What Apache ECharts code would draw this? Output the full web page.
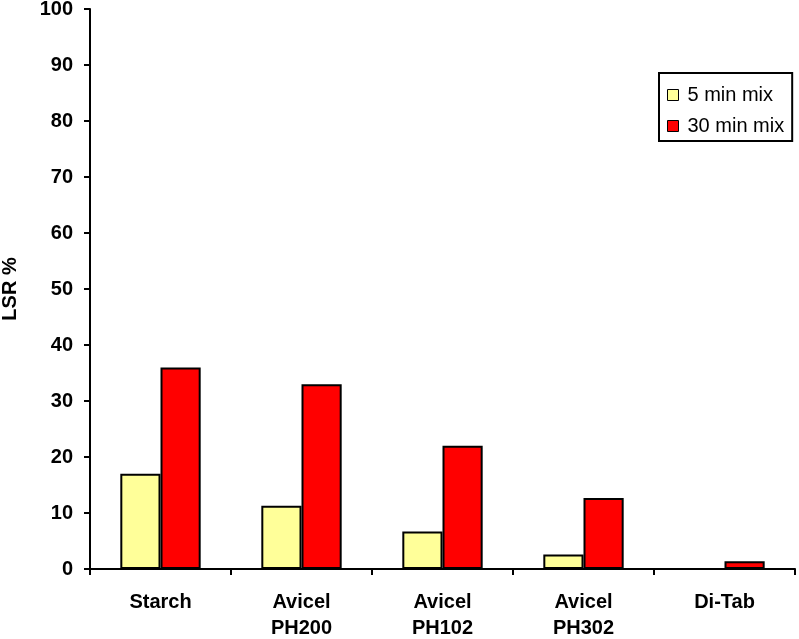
<!DOCTYPE html>
<html>
<head>
<meta charset="utf-8">
<script src="https://cdn.jsdelivr.net/npm/echarts@6/dist/echarts.min.js"></script>
<style>
  html, body { margin: 0; padding: 0; background: #fff; }
  #chart { width: 799px; height: 639px; }
</style>
</head>
<body>
<div id="chart"></div>
<script>
const categories = ['Starch', 'Avicel\nPH200', 'Avicel\nPH102', 'Avicel\nPH302', 'Di-Tab']
const mix5 = [17, 11.3, 6.7, 2.6, 0]
const mix30 = [36, 33, 22, 12.7, 1.4]
const yTicks = [0, 100, 10] // min, max, step

const chart = echarts.init(document.getElementById('chart'))
const font = 'Liberation Sans, Arial, sans-serif'

chart.setOption({
  animation: false,
  grid: { left: 90, right: 4, top: 9, bottom: 70, outerBoundsMode: 'none' },
  legend: {
    orient: 'vertical',
    left: 659,
    top: 73,
    icon: 'rect',
    itemWidth: 11,
    itemHeight: 11,
    itemGap: 11,
    padding: [12, 8, 5, 8],
    borderColor: '#000',
    borderWidth: 2,
    itemStyle: { borderColor: '#000', borderWidth: 1 },
    textStyle: { fontFamily: font, fontSize: 20, color: '#000', padding: [0, 0, 0, 4] },
    data: ['5 min mix', '30 min mix']
  },
  xAxis: {
    type: 'category',
    data: categories,
    axisLine: { lineStyle: { color: '#000', width: 2 } },
    axisTick: { show: true, length: 6, lineStyle: { color: '#000', width: 2 } },
    axisLabel: {
      color: '#000',
      fontFamily: font,
      fontWeight: 'bold',
      fontSize: 20,
      lineHeight: 26,
      margin: 20,
      interval: 0
    }
  },
  yAxis: {
    type: 'value',
    min: yTicks[0],
    max: yTicks[1],
    interval: yTicks[2],
    name: 'LSR %',
    nameLocation: 'middle',
    nameGap: 70,
    nameTextStyle: { color: '#000', fontFamily: font, fontWeight: 'bold', fontSize: 20 },
    axisLine: { show: true, lineStyle: { color: '#000', width: 2 } },
    axisTick: { show: true, length: 6, lineStyle: { color: '#000', width: 2 } },
    axisLabel: { color: '#000', fontFamily: font, fontWeight: 'bold', fontSize: 20, margin: 17 },
    splitLine: { show: false }
  },
  series: [
    {
      name: '5 min mix',
      type: 'bar',
      data: mix5,
      barGap: '0%',
      barCategoryGap: '43%',
      itemStyle: { color: '#FFFF99', borderColor: '#000', borderWidth: 2 }
    },
    {
      name: '30 min mix',
      type: 'bar',
      data: mix30,
      barGap: '0%',
      barCategoryGap: '43%',
      itemStyle: { color: '#FF0000', borderColor: '#000', borderWidth: 2 }
    }
  ]
})
</script>
</body>
</html>
